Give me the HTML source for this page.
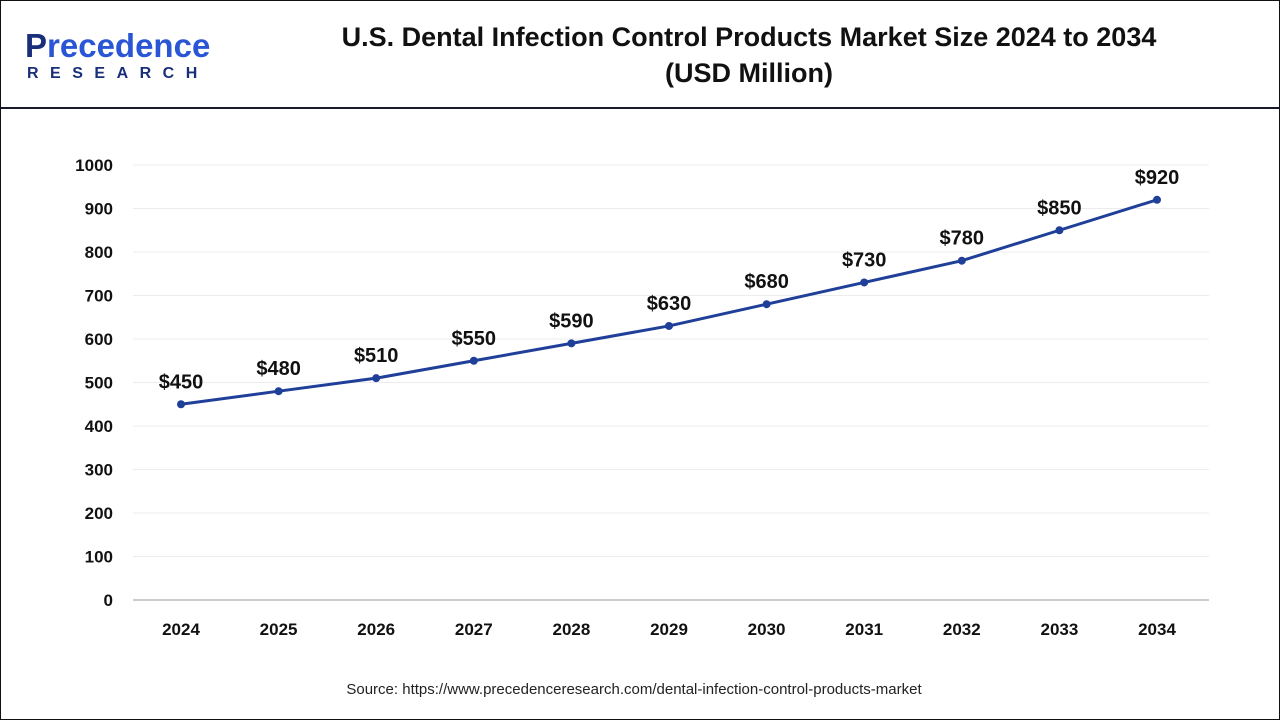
<!DOCTYPE html>
<html><head><meta charset="utf-8">
<style>
body{margin:0;background:#fff;font-family:"Liberation Sans",Arial,sans-serif;}
#wrap{position:relative;width:1278px;height:718px;border:1px solid #111;overflow:hidden;}
#hdr{position:absolute;left:0;top:0;width:1278px;height:106px;border-bottom:2px solid #1a1a2e;}
#title{position:absolute;left:268px;width:960px;top:18px;text-align:center;font-weight:bold;font-size:27px;line-height:36px;color:#111;}
#logo1{position:absolute;left:24px;top:26px;font-size:33px;font-weight:bold;color:#1a2f7a;letter-spacing:0px;}
#logo1 span{color:#2a56d6;}
#logo2{position:absolute;left:26px;top:64px;font-size:16px;font-weight:bold;color:#1a2f7a;letter-spacing:11.5px;}
#src{position:absolute;left:0;width:1266px;top:680px;text-align:center;font-size:15px;color:#222;}
</style></head><body>
<div id="wrap">
<div id="hdr">
<div id="logo1">P<span>recedence</span></div>
<div id="logo2">RESEARCH</div>
<div id="title">U.S. Dental Infection Control Products Market Size 2024 to 2034<br>(USD Million)</div>
</div>
<svg id="chart" width="1278" height="718" style="position:absolute;left:0;top:0"></svg>
<div id="src">Source: https://www.precedenceresearch.com/dental-infection-control-products-market</div>
</div>
<script>
const years=["2024","2025","2026","2027","2028","2029","2030","2031","2032","2033","2034"];
const values=[450,480,510,550,590,630,680,730,780,850,920];
const labels=["$450","$480","$510","$550","$590","$630","$680","$730","$780","$850","$920"];
const yTicks=[0,100,200,300,400,500,600,700,800,900,1000];
const ns="http://www.w3.org/2000/svg";
const svg=document.getElementById('chart');
const x0=180,dx=97.6,yb=599,ys=0.435;
const X=i=>x0+i*dx, Y=v=>yb-v*ys;
function mk(t,a,txt){const e=document.createElementNS(ns,t);for(const k in a)e.setAttribute(k,a[k]);if(txt!=null)e.textContent=txt;svg.appendChild(e);return e;}
yTicks.forEach(v=>{
 const g=mk('line',{x1:132,x2:1208,y1:Y(v),y2:Y(v),stroke:v===0?'#999':'#ececec','stroke-width':1});
 
 
 const t=mk('text',{x:112,y:Y(v)+6,'text-anchor':'end','font-size':17,'font-weight':'bold',fill:'#111'},v);
 
 
});
years.forEach((y,i)=>{
 const t=mk('text',{x:X(i),y:634,'text-anchor':'middle','font-size':17,'font-weight':'bold',fill:'#111'},y);
 
 
});
const p=mk('polyline',{points:values.map((v,i)=>X(i)+','+Y(v)).join(' '),fill:'none',stroke:'#1f3f99','stroke-width':3});


values.forEach((v,i)=>{
 const c=mk('circle',{cx:X(i),cy:Y(v),r:4,fill:'#1f3f99'});
 
 
 const t=mk('text',{x:X(i),y:Y(v)-16,'text-anchor':'middle','font-size':20,'font-weight':'bold',fill:'#111'},labels[i]);
 
 
});
</script>
</body></html>
